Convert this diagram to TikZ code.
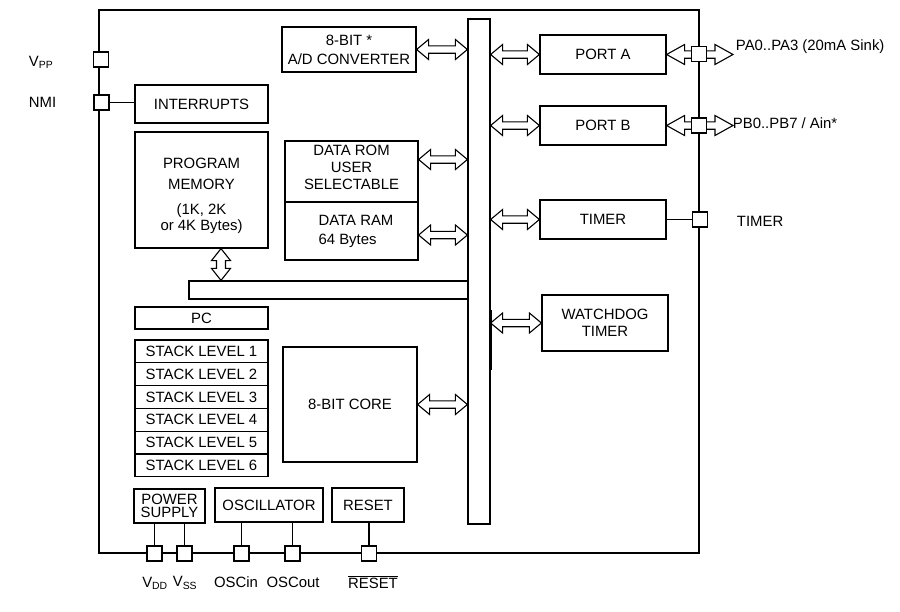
\documentclass[tikz,border=0pt]{standalone}
\usepackage{fontspec}
\setmainfont{Liberation Sans}
\usetikzlibrary{calc}

\begin{document}
\begin{tikzpicture}[x=1pt, y=-1pt, line width=1.2pt,
	font=\fontsize{14.9}{16.8}\selectfont,
	blk/.style={draw, inner sep=0pt, align=center},
	pin/.style={draw, fill=white, inner sep=0pt, minimum size=15pt},
	hfat/.style={draw, fill=white, line width=1.1pt, to path={let \p1=(\tikztostart), \p2=(\tikztotarget), \n1={(\x2>\x1)?#1:-#1} in
		(\x1,\y1) -- (\x1+\n1,\y1+10) -- (\x1+\n1,\y1+3.7) -- (\x2-\n1,\y1+3.7) -- (\x2-\n1,\y1+10) -- (\x2,\y1)
		-- (\x2-\n1,\y1-10) -- (\x2-\n1,\y1-3.7) -- (\x1+\n1,\y1-3.7) -- (\x1+\n1,\y1-10) -- cycle}},
	hfat/.default=12,
	vfat/.style={draw, fill=white, line width=1.1pt, to path={let \p1=(\tikztostart), \p2=(\tikztotarget), \n1={(\y2>\y1)?12:-12} in
		(\x1,\y1) -- (\x1+9.5,\y1+\n1) -- (\x1+4.5,\y1+\n1) -- (\x1+4.5,\y2-\n1) -- (\x1+9.5,\y2-\n1) -- (\x1,\y2)
		-- (\x1-9.5,\y2-\n1) -- (\x1-4.5,\y2-\n1) -- (\x1-4.5,\y1+\n1) -- (\x1-9.5,\y1+\n1) -- cycle}}]
	\useasboundingbox (0,0) rectangle (900,611);
	\node[blk, minimum width=600pt, minimum height=543pt] (chip) at (399,281.5) {};

	\node[blk, minimum width=134pt, minimum height=45pt] (adc) at (349,49.5) {8-BIT *\\[2pt]A/D CONVERTER};
	\node[blk, minimum width=133pt, minimum height=38pt] (intr) at (201.5,104) {INTERRUPTS};
	\node[blk, minimum width=133pt, minimum height=116pt] (pmem) at (201.5,190) {};
	\node[align=center] (pmemtxt) at (201.5,196) {PROGRAM\\[4pt]MEMORY\\[8pt](1K, 2K\\or 4K Bytes)};
	\node[blk, minimum width=133pt, minimum height=61pt] (drom) at (351.5,171.5) {};
	\node[align=center] (dromtxt) at (351.5,167.5) {DATA ROM\\USER\\SELECTABLE};
	\node[blk, minimum width=133pt, minimum height=58pt] (dram) at (351.5,231) {};
	\node[align=left, inner sep=0pt] (dramtxt) at (356,231.5) {DATA RAM\\[2pt]64 Bytes};

	\node[blk, minimum width=279pt, minimum height=18pt] (hbus) at (328.5,290) {};
	\node[blk, minimum width=22pt, minimum height=505pt] (ibus) at (479,271.5) {};
	\draw[line width=2pt] ([yshift=-38.5pt]ibus.east) -- ([yshift=-98.5pt]ibus.east);

	\node[blk, minimum width=126pt, minimum height=39pt] (porta) at (603,54.5) {PORT A};
	\node[blk, minimum width=126pt, minimum height=39pt] (portb) at (603,125.5) {PORT B};
	\node[blk, minimum width=126pt, minimum height=39pt] (tmr) at (603,219.5) {TIMER};
	\node[blk, minimum width=126pt, minimum height=56pt] (wdt) at (605,323) {WATCHDOG\\TIMER};

	\node[blk, minimum width=133pt, minimum height=22pt] (pc) at (201.5,318) {PC};
	\foreach \i in {1,...,6}
		\node[blk, minimum width=133pt, minimum height=22.8pt] (stk\i) at (201.5,{340+22.8*(\i-0.5)}) {STACK LEVEL \i};
	\node[blk, minimum width=134pt, minimum height=115pt] (core) at (350,404.5) {8-BIT CORE};

	\node[blk, minimum width=71pt, minimum height=34pt] (psu) at (169.5,506) {POWER\\[-3.5pt]SUPPLY};
	\node[blk, minimum width=108pt, minimum height=34pt] (osc) at (269,505) {OSCILLATOR};
	\node[blk, minimum width=72pt, minimum height=34pt] (rst) at (368,505) {RESET};

	\coordinate (romarr) at ([yshift=12pt]drom.east);
	\coordinate (ramarr) at ([yshift=-4pt]dram.east);
	\coordinate (pmarr) at ([xshift=19.5pt]pmem.south);
	\draw[hfat] (adc.east) to (adc.east -| ibus.west);
	\draw[hfat] (romarr) to (romarr -| ibus.west);
	\draw[hfat] (ramarr) to (ramarr -| ibus.west);
	\draw[hfat] (core.east) to (core.east -| ibus.west);
	\draw[vfat] (pmarr) to (pmarr |- hbus.north);
	\draw[hfat] (ibus.east |- porta.west) to (porta.west);
	\draw[hfat] (ibus.east |- portb.west) to (portb.west);
	\draw[hfat] (ibus.east |- tmr.west) to (tmr.west);
	\draw[hfat] (ibus.east |- wdt.west) to (wdt.west);

	\coordinate (paend) at (733,54.5);
	\coordinate (pbend) at (733,125.5);
	\draw[hfat=18] (porta.east) to (paend);
	\draw[hfat=18] (portb.east) to (pbend);

	\node[pin] (vpp) at (101,59.5) {};
	\node[pin] (nmi) at (101.5,102.5) {};
	\node[pin] (pa) at (699,54) {};
	\node[pin] (pb) at (699,125.5) {};
	\node[pin] (ptmr) at (700,219.5) {};
	\foreach \p/\x in {vdd/154.5, vss/184.5, oscin/241.5, oscout/292.5, mclr/369}
		\node[pin] (\p) at (\x,553.5) {};

	\draw (nmi.east) -- (nmi.east -| intr.west);
	\draw (tmr.east) -- (tmr.east -| ptmr.west);
	\draw (vdd.north |- psu.south) -- (vdd.north);
	\draw (vss.north |- psu.south) -- (vss.north);
	\draw (oscin.north |- osc.south) -- (oscin.north);
	\draw (oscout.north |- osc.south) -- (oscout.north);
	\draw (mclr.north |- rst.south) -- (mclr.north);

	\node[anchor=west] (vpplbl) at (25,62) {V\textsubscript{PP}};
	\node[anchor=west] (nmilbl) at (25,102.5) {NMI};
	\node[anchor=west] (palbl) at (732,47) {PA0..PA3 (20mA Sink)};
	\node[anchor=west] (pblbl) at (729,123) {PB0..PB7 / Ain*};
	\node[anchor=west] (tmrlbl) at (733,221) {TIMER};
	\node (vddlbl) at (155,583) {V\textsubscript{DD}};
	\node (vsslbl) at (185,583) {V\textsubscript{SS}};
	\node (oscinlbl) at (236,582) {OSCin};
	\node (oscoutlbl) at (293,582) {OSCout};
	\node (mclrlbl) at (373,582) {$\overline{\mbox{RESET}}$};
\end{tikzpicture}
\end{document}
